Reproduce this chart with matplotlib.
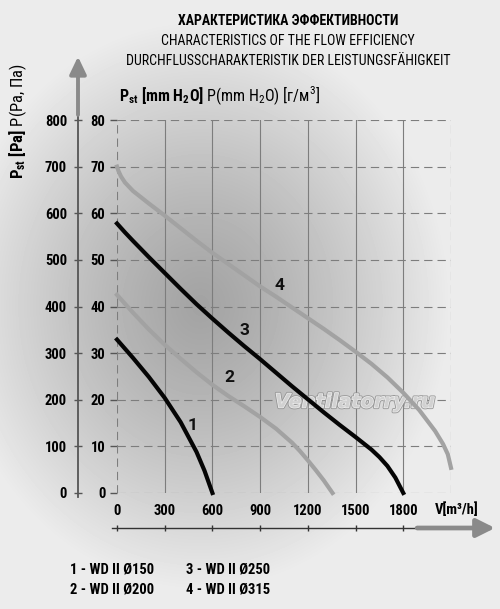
import numpy as np
import matplotlib
matplotlib.use("Agg")
import matplotlib.pyplot as plt
import matplotlib.transforms as mtransforms
import matplotlib.patheffects as pe

# fan curves: flow V [m3/h] vs static pressure [Pa]
flow_1 = [0, 100, 200, 300, 400, 500, 550, 600]
pa_1 = [329, 290, 249, 204, 152, 88, 48, 0]

flow_2 = [0, 100, 200, 300, 400, 500, 600, 700, 800, 900, 1000, 1100, 1150, 1200, 1250, 1300, 1355]
pa_2 = [425, 387, 351, 318, 288, 259, 232, 208, 186, 163, 138, 108, 90, 70, 49, 27, 0]

flow_3 = [0, 50, 100, 200, 300, 400, 500, 600, 700, 800, 900, 1000, 1100, 1200,
          1300, 1400, 1500, 1600, 1650, 1700, 1750, 1800]
pa_3 = [578, 559, 541, 506, 472, 438, 405, 374, 344, 315, 287, 258, 229, 201,
        173, 146, 120, 93, 77, 58, 33, 0]

flow_4 = [0, 10, 25, 50, 100, 200, 300, 400, 500, 600, 700, 800, 900, 1000, 1100, 1200,
          1300, 1400, 1500, 1600, 1700, 1800, 1900, 2000, 2050, 2080, 2100]
pa_4 = [700, 690, 679, 666, 648, 621, 595, 568, 541, 515, 491, 467, 443, 421, 398, 375,
        352, 328, 303, 277, 248, 215, 178, 133, 105, 83, 54]

curve_names = ['1', '2', '3', '4']
legend_names = ['1 - WD II Ø150', '2 - WD II Ø200', '3 - WD II Ø250', '4 - WD II Ø315']

pa_ticks = [0, 100, 200, 300, 400, 500, 600, 700, 800]
mm_ticks = [0, 10, 20, 30, 40, 50, 60, 70, 80]
flow_ticks = [0, 300, 600, 900, 1200, 1500, 1800]
grid_x = [0, 300, 600, 900, 1200, 1500, 1800, 2100]

title_lines = ['ХАРАКТЕРИСТИКА ЭФФЕКТИВНОСТИ',
               'CHARACTERISTICS OF THE FLOW EFFICIENCY',
               'DURCHFLUSSCHARAKTERISTIK DER LEISTUNGSFÄHIGKEIT']

plt.rcParams['font.family'] = ['Roboto Condensed', 'DejaVu Sans']
plt.rcParams['mathtext.fontset'] = 'custom'
plt.rcParams['mathtext.rm'] = 'Roboto Condensed'
plt.rcParams['mathtext.it'] = 'Roboto Condensed:italic'
plt.rcParams['mathtext.bf'] = 'Roboto Condensed:bold'
plt.rcParams['lines.scale_dashes'] = False

W, H = 500, 609
fig = plt.figure(figsize=(W / 100, H / 100), dpi=100)

def fx(px):
    return px / W

def fy(py):
    return 1 - py / H

# radial grey background
bg = fig.add_axes([0, 0, 1, 1], zorder=-10)
yy, xx = np.mgrid[0:H, 0:W]
d = np.sqrt(((xx - 200) / 250.0) ** 2 + ((yy - 305) / 285.0) ** 2)
shade = 0.64 + (0.925 - 0.64) * np.clip(d, 0, 1) ** 1.25
bg.imshow(shade, cmap='gray', vmin=0, vmax=1, aspect='auto', extent=[0, 1, 0, 1])
bg.axis('off')

ax = fig.add_axes([fx(117), 1 - 493 / H, 334 / W, 373 / H])
ax.patch.set_alpha(0)
ax.set_xlim(0, 2100)
ax.set_ylim(0, 800)

grid_col = '#7d7d7d'
dash = (0, (6, 3.6))
for v in pa_ticks:
    ax.axhline(v, color=grid_col, lw=0.8, ls=dash, zorder=1)
for v in grid_x:
    ls = dash if v in (0, 2100) else '-'
    ax.axvline(v, color=grid_col, lw=0.8, ls=ls, zorder=1)

ax.plot(flow_1, pa_1, color='#050505', lw=3, zorder=3, clip_on=False)
ax.plot(flow_2, pa_2, color='#a2a2a2', lw=3, zorder=3, clip_on=False)
ax.plot(flow_3, pa_3, color='#050505', lw=3, zorder=3, clip_on=False)
ax.plot(flow_4, pa_4, color='#a2a2a2', lw=3, zorder=3, clip_on=False)

label_pos = [(472, 144), (704, 247), (803, 348), (1025, 446)]
for name, (x, y) in zip(curve_names, label_pos):
    ax.text(x, y, name, fontsize=12.5, fontweight='bold', family='Roboto',
            color='#111111', ha='center', va='center', zorder=4)

# watermark
ax.text(1497, 195, 'Ventilatorry.ru', fontsize=14, fontweight='bold', style='italic',
        family='DejaVu Sans', color='#d2d2d2', alpha=0.9, ha='center', va='center', zorder=2,
        path_effects=[pe.Stroke(linewidth=2.2, foreground='#939393'),
                      pe.Stroke(linewidth=0.9, foreground='#f6f6f6'), pe.Normal()])

# outer Pa axis
for s in ['top', 'right']:
    ax.spines[s].set_visible(False)
ax.spines['left'].set_position(('outward', 39 * 0.72))
ax.spines['left'].set_bounds(-8, 811)
ax.spines['left'].set_color('#555555')
ax.spines['left'].set_linewidth(1.3)
ax.set_yticks(pa_ticks)
ax.set_yticklabels([str(v) for v in pa_ticks], fontweight='bold', fontsize=10.5)
ax.tick_params(axis='y', direction='inout', length=5.8, width=1, color='#555555', pad=5)

# bottom flow axis line
ax.spines['bottom'].set_position(('outward', 35 * 0.72))
ax.spines['bottom'].set_bounds(-31, 1887)
ax.spines['bottom'].set_color('#333333')
ax.spines['bottom'].set_linewidth(1)
ax.set_xticks(flow_ticks)
ax.tick_params(axis='x', direction='inout', length=4.5, width=1, color='#333333',
               labelbottom=False)

# inner mm H2O scale
sec_y = ax.secondary_yaxis(0, functions=(lambda v: v / 10, lambda v: v * 10))
sec_y.set_yticks(mm_ticks)
sec_y.set_yticklabels([str(v) for v in mm_ticks], fontweight='bold', fontsize=10.5)
sec_y.spines['left'].set_visible(False)
sec_y.tick_params(direction='out', length=5.3, width=1, color='#555555', pad=3)

sec_x = ax.secondary_xaxis(0)
sec_x.set_xticks(flow_ticks)
sec_x.set_xticklabels([str(v) for v in flow_ticks], fontweight='bold', fontsize=10.5)
sec_x.spines['bottom'].set_visible(False)
sec_x.tick_params(length=0, pad=8)

# arrows
arrow_col = '#8a8a8a'
left_tr = mtransforms.offset_copy(ax.transAxes, fig=fig, x=-39, y=0, units='dots')
left_tr = mtransforms.blended_transform_factory(left_tr, ax.transData)
ax.annotate('', xy=(0, 936), xytext=(0, 811), xycoords=left_tr, textcoords=left_tr,
            annotation_clip=False,
            arrowprops=dict(arrowstyle='-|>,head_length=1.05,head_width=0.5',
                            mutation_scale=10, lw=2.8, color=arrow_col,
                            shrinkA=0, shrinkB=0))
bot_tr = mtransforms.offset_copy(ax.transAxes, fig=fig, x=0, y=-35, units='dots')
bot_tr = mtransforms.blended_transform_factory(ax.transData, bot_tr)
ax.annotate('', xy=(2377, 0), xytext=(1887, 0), xycoords=bot_tr, textcoords=bot_tr,
            annotation_clip=False,
            arrowprops=dict(arrowstyle='-|>,head_length=1.1,head_width=0.55',
                            mutation_scale=10, lw=3.4, color=arrow_col,
                            shrinkA=0, shrinkB=0))

fig.text(fx(435), fy(510), 'V[m³/h]', fontsize=10.5, fontweight='bold', ha='left', va='center')

# axis titles
fig.text(fx(18), fy(121), r'$\mathbf{P_{st}\ [Pa]}$ P(Pa, Па)', fontsize=12,
         rotation=90, ha='center', va='center')
fig.text(fx(119), fy(96), r'$\mathbf{P_{st}\ [mm\ H_2O]}$ P(mm H$_2$O) [г/м$^3$]',
         fontsize=11.5, ha='left', va='center')

fig.text(fx(288), fy(21), title_lines[0], fontsize=10, fontweight='bold', ha='center', va='center')
fig.text(fx(288), fy(41), title_lines[1], fontsize=10, ha='center', va='center')
fig.text(fx(288), fy(61), title_lines[2], fontsize=10, ha='center', va='center')

legend_xy = [(70, 570), (70, 590), (186, 570), (186, 590)]
for name, (x, y) in zip(legend_names, legend_xy):
    fig.text(fx(x), fy(y), name, fontsize=10.5, fontweight='bold', ha='left', va='center')

fig.savefig('out.png', dpi=100)
